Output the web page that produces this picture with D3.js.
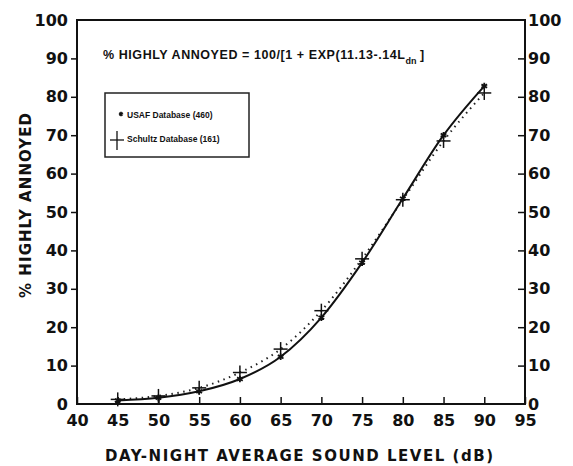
<!DOCTYPE html>
<html>
<head>
<meta charset="utf-8">
<script src="https://cdn.jsdelivr.net/npm/d3@7"></script>
<style>
  body { margin: 0; background: #fff; }
  text { font-family: "Liberation Sans", Arial, sans-serif; font-weight: bold; fill: #111; }
</style>
</head>
<body>
<div id="chart"></div>
<script>
const levels = [45, 50, 55, 60, 65, 70, 75, 80, 85, 90];
const usaf = [0.9, 1.6, 3.3, 6.5, 12.3, 22.5, 36.8, 53.5, 70, 82.8];
const schultz = [1.2, 2.1, 4.2, 8.2, 14.3, 24.3, 37.8, 53.2, 68.5, 81];
const xTicks = [40, 45, 50, 55, 60, 65, 70, 75, 80, 85, 90, 95];
const yTicks = [0, 10, 20, 30, 40, 50, 60, 70, 80, 90, 100];

const width = 573
const height = 466
const plotL = 77, plotR = 525, plotT = 20, plotB = 404

const x = d3.scaleLinear().domain([40, 95]).range([plotL, plotR]);
const y = d3.scaleLinear().domain([0, 100]).range([plotB, plotT]);

const svg = d3.select('#chart')
  .append('svg')
  .attr('width', width)
  .attr('height', height);

svg.append('rect').attr('width', width).attr('height', height).attr('fill', '#fff');

// axes
const gLeft = svg.append('g')
  .attr('transform', `translate(${plotL},0)`)
  .call(d3.axisLeft(y).tickValues(yTicks).tickSize(6).tickPadding(3));
const gRight = svg.append('g')
  .attr('transform', `translate(${plotR},0)`)
  .call(d3.axisRight(y).tickValues(yTicks).tickSize(-7).tickPadding(3));
const gBottom = svg.append('g')
  .attr('transform', `translate(0,${plotB})`)
  .call(d3.axisBottom(x).tickValues(xTicks).tickSize(-7).tickPadding(11));

[gLeft, gRight, gBottom].forEach(g => {
  g.select('.domain').remove();
  g.selectAll('.tick line').attr('stroke', '#111').attr('stroke-width', 1.5);
  g.selectAll('.tick text')
    .style('font-family', '"DejaVu Sans", sans-serif')
    .style('font-weight', 'bold')
    .style('font-size', '16px')
    .attr('fill', '#111');
});
// no tick lines at 0 and 100 on y axes
gLeft.selectAll('.tick').filter(d => d === 0 || d === 100).select('line').remove();
gRight.selectAll('.tick').filter(d => d === 0 || d === 100).select('line').remove();

// frame
svg.append('rect')
  .attr('x', plotL).attr('y', plotT)
  .attr('width', plotR - plotL).attr('height', plotB - plotT)
  .attr('fill', 'none').attr('stroke', '#111').attr('stroke-width', 2);

// curves
const line = d3.line().x((d, i) => x(levels[i])).y(d => y(d)).curve(d3.curveMonotoneX);

svg.append('path')
  .datum(schultz)
  .attr('d', line)
  .attr('fill', 'none')
  .attr('stroke', '#222')
  .attr('stroke-width', 2)
  .attr('stroke-dasharray', '1.5,4.5');

svg.append('path')
  .datum(usaf)
  .attr('d', line)
  .attr('fill', 'none')
  .attr('stroke', '#111')
  .attr('stroke-width', 2);

// markers: plus for Schultz, asterisk for USAF
const plus = svg.append('g').selectAll('g')
  .data(schultz)
  .enter()
  .append('g')
  .attr('transform', (d, i) => `translate(${x(levels[i])},${y(d)})`);
plus.append('line').attr('x1', -7).attr('x2', 7).attr('stroke', '#111').attr('stroke-width', 1.5);
plus.append('line').attr('y1', -7).attr('y2', 7).attr('stroke', '#111').attr('stroke-width', 1.5);

svg.append('g').selectAll('path')
  .data(usaf)
  .enter()
  .append('path')
  .attr('d', d3.symbol().type(d3.symbolAsterisk).size(30))
  .attr('transform', (d, i) => `translate(${x(levels[i])},${y(d)})`)
  .attr('fill', 'none')
  .attr('stroke', '#111')
  .attr('stroke-width', 1.8);

// formula
const f = svg.append('text')
  .attr('x', 103)
  .attr('y', 59)
  .attr('font-size', 12.5);
f.append('tspan').attr('textLength', 302).attr('lengthAdjust', 'spacing')
  .text('% HIGHLY ANNOYED = 100/[1 + EXP(11.13-.14L');
f.append('tspan').attr('font-size', 9).attr('dy', 5).text('dn');
f.append('tspan').attr('dy', -5).text(' ]');

// legend
svg.append('rect')
  .attr('x', 105).attr('y', 93)
  .attr('width', 144).attr('height', 64)
  .attr('fill', 'none').attr('stroke', '#222').attr('stroke-width', 1.5);

svg.append('path')
  .attr('d', d3.symbol().type(d3.symbolAsterisk).size(14))
  .attr('transform', 'translate(121,114)')
  .attr('fill', 'none').attr('stroke', '#111').attr('stroke-width', 1.5);
svg.append('text').attr('x', 127).attr('y', 118).attr('font-size', 8.5).text('USAF Database (460)');

svg.append('line').attr('x1', 110).attr('x2', 124).attr('y1', 140).attr('y2', 140).attr('stroke', '#111').attr('stroke-width', 1.3);
svg.append('line').attr('x1', 117).attr('x2', 117).attr('y1', 131).attr('y2', 150).attr('stroke', '#111').attr('stroke-width', 1.3);
svg.append('text').attr('x', 127).attr('y', 142).attr('font-size', 8.5).text('Schultz Database (161)');

// axis titles
svg.append('text')
  .attr('x', 105)
  .attr('y', 461)
  .style('font-family', '"DejaVu Sans", sans-serif')
  .attr('font-size', 15)
  .attr('textLength', 388)
  .attr('lengthAdjust', 'spacing')
  .text('DAY-NIGHT AVERAGE SOUND LEVEL (dB)');

svg.append('text')
  .attr('transform', 'translate(31,298) rotate(-90)')
  .style('font-family', '"DejaVu Sans", sans-serif')
  .attr('font-size', 15)
  .attr('textLength', 185)
  .attr('lengthAdjust', 'spacing')
  .text('% HIGHLY ANNOYED');
</script>
</body>
</html>
